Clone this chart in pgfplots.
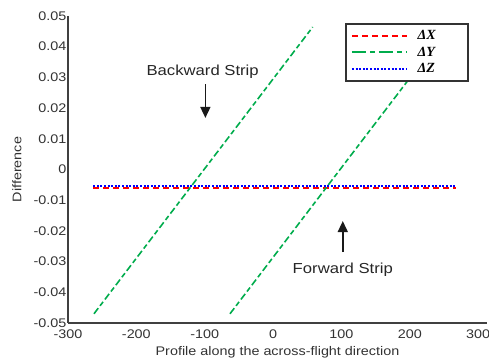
\documentclass[border=0pt]{standalone}
\usepackage{pgfplots}
\pgfplotsset{compat=1.18}
\usepackage{fontspec}
\setmainfont{Liberation Sans}
\newfontfamily\wsans[FakeStretch=1.15]{Liberation Sans}
\newfontfamily\lserif{Liberation Serif}
\usetikzlibrary{arrows.meta}
\definecolor{dgreen}{RGB}{0,172,76}
\definecolor{dred}{RGB}{255,0,0}
\definecolor{dblue}{RGB}{0,0,255}
\begin{document}
\begin{tikzpicture}
\begin{axis}[
  name=ax,
  scale only axis,
  width=419pt, height=307pt,
  xmin=-300, xmax=313,
  ymin=-0.05, ymax=0.05,
  xtick={-300,-200,...,300},
  ytick={-0.05,-0.04,...,0.05},
  yticklabel style={xshift=2pt, /pgf/number format/.cd,fixed,precision=2},
  scaled y ticks=false,
  /pgf/number format/assume math mode=true,
  tick label style={font=\wsans\fontsize{12.5}{14}\selectfont, color=black!80},
  xticklabel style={yshift=-3pt},
  every axis x label/.style={at={(axis description cs:0.5,-0.0945)}, anchor=center,
    font=\wsans\fontsize{12.5}{14}\selectfont, color=black!80},
  every axis y label/.style={at={(axis description cs:-0.122,0.5)}, anchor=center, rotate=90,
    font=\wsans\fontsize{12.5}{14}\selectfont, color=black!80},
  major tick length=0pt,
  axis x line*=bottom, axis y line*=left,
  axis line style={-, line width=1.5pt, color=black!75},
  xlabel={Profile along the across-flight direction},
  ylabel={Difference},
  legend style={at={(axis description cs:0.661,0.977)}, anchor=north west, draw=black!80, /tikz/line width=2pt,
    fill=white, font=\lserif\bfseries\itshape\fontsize{14}{15}\selectfont,
    inner xsep=5pt, inner ysep=5pt, row sep=2.5pt, nodes={inner sep=1.6pt}},
  legend cell align=left,
  legend image code/.code={\draw[#1, /tikz/line width=2pt] (0pt,0pt) -- (55pt,0pt);},
  clip=false,
]
\addplot[draw=dred, line width=1.6pt, dash pattern=on 6pt off 4pt] coordinates {(-263,-0.0060) (267,-0.0060)};
\addlegendentry{\hspace{8pt}\makebox[44pt][l]{ΔX}}
\addplot[draw=dgreen, line width=1.6pt, dash pattern=on 7pt off 3pt on 5pt off 3pt, forget plot] coordinates {(-262,-0.047) (58,0.0464)};
\addplot[draw=dgreen, line width=1.6pt, dash pattern=on 7pt off 3pt on 5pt off 3pt,
  legend image code/.code={\draw[draw=dgreen, line width=2pt, dash pattern=on 14pt off 4pt on 5pt off 4pt] (0pt,0pt) -- (55pt,0pt);}] coordinates {(-63,-0.047) (257,0.0464)};
\addlegendentry{\hspace{8pt}\makebox[44pt][l]{ΔY}}
\addplot[draw=dblue, line width=1.6pt, dash pattern=on 2pt off 1.6pt] coordinates {(-263,-0.0054) (267,-0.0054)};
\addlegendentry{\hspace{8pt}\makebox[44pt][l]{ΔZ}}
\node[font=\wsans\fontsize{14.5}{16}\selectfont, color=black!85] at (axis cs:-103,0.0318) {Backward Strip};
\draw[-{Triangle[length=11pt,width=10pt]}, line width=1.6pt, color=black!90] (axis cs:-99,0.0278) -- (axis cs:-99,0.0168);
\node[font=\wsans\fontsize{14.5}{16}\selectfont, color=black!85] at (axis cs:102,-0.0327) {Forward Strip};
\draw[-{Triangle[length=11pt,width=10pt]}, line width=1.6pt, color=black!90] (axis cs:102,-0.0269) -- (axis cs:102,-0.0168);
\end{axis}
\pgfresetboundingbox
\path ([xshift=-68pt,yshift=-41pt]ax.south west) rectangle ([xshift=2pt,yshift=16pt]ax.north east);
\end{tikzpicture}
\end{document}
